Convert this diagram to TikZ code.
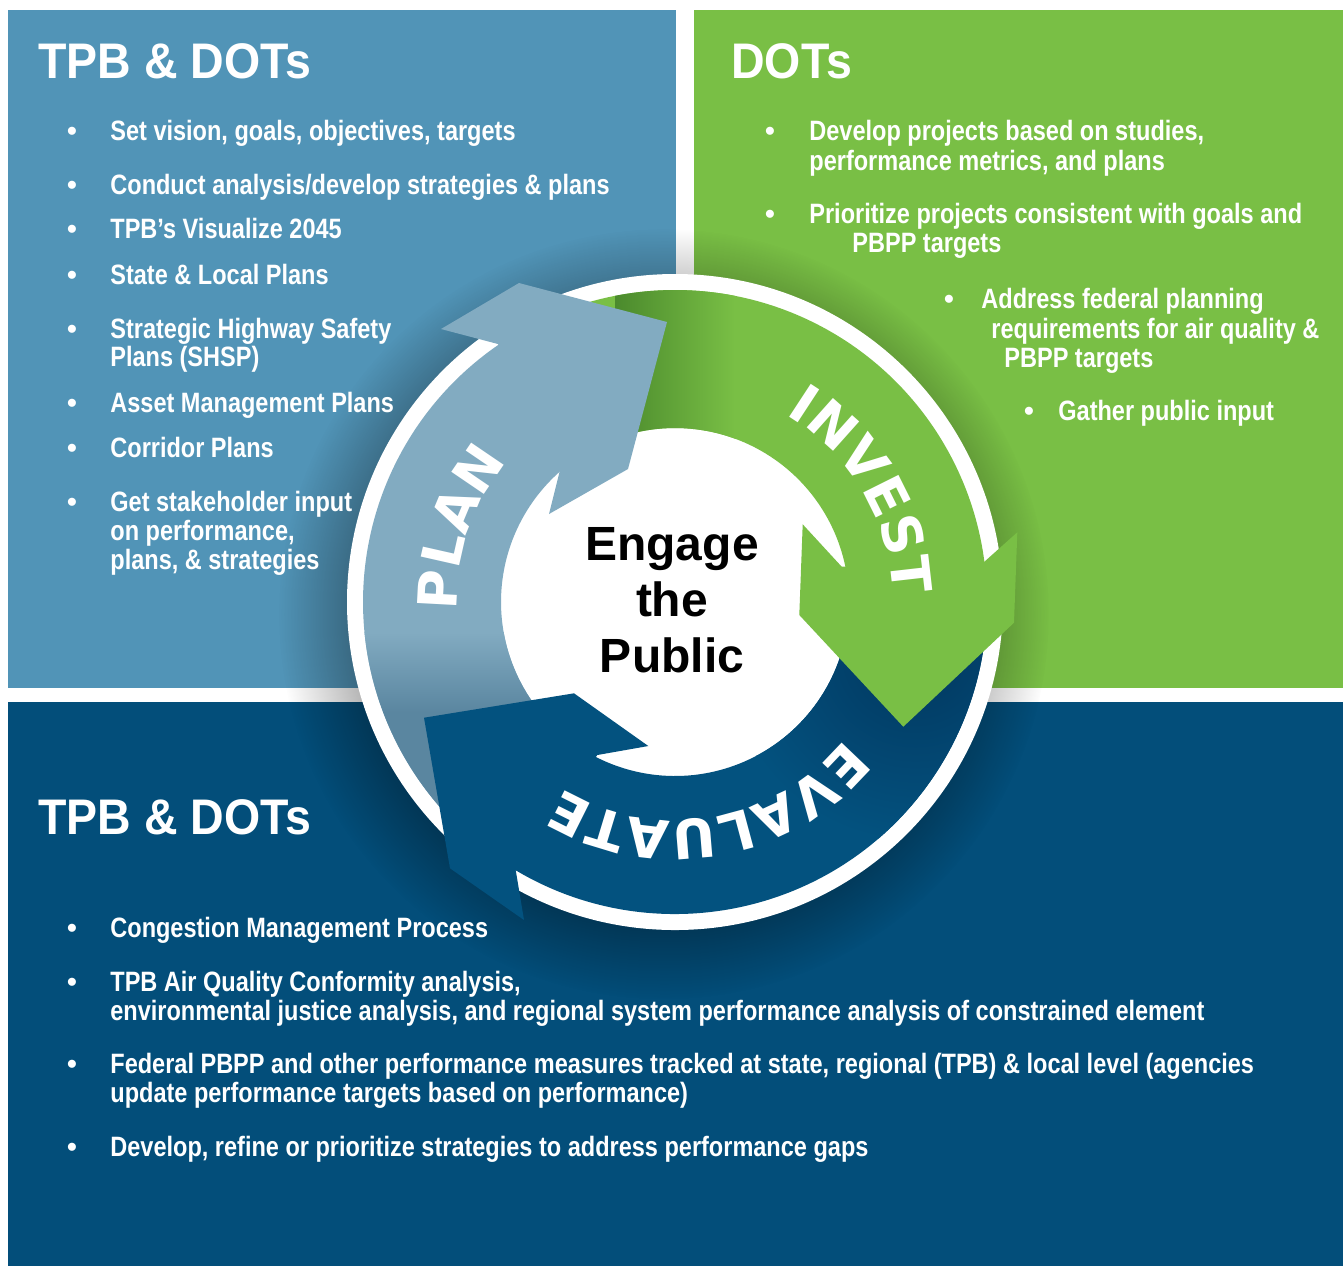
\documentclass[tikz,border=0pt]{standalone}
\usepackage{fontspec}
\setmainfont{Liberation Sans}
\newfontfamily\itemfont{Liberation Sans}[FakeStretch=0.84]
\newfontfamily\headfont{Liberation Sans}[FakeStretch=0.93]
\newfontfamily\ringfont{DejaVu Sans}
\usetikzlibrary{decorations.text,fadings}

\definecolor{planpanel}{HTML}{5194B7}
\definecolor{planarrow}{HTML}{82ABC1}
\definecolor{planshade}{HTML}{5A86A0}
\definecolor{investgreen}{HTML}{79BF45}
\definecolor{investshade}{HTML}{4B8A2D}
\definecolor{evalpanel}{HTML}{034E7A}
\definecolor{evalarrow}{HTML}{03527F}
\definecolor{evalshade}{HTML}{02375F}

% arrow bands, relative to the wheel centre (they run a little under their heads)
\newcommand\planband{(-121.4:312) arc[start angle=-121.4, end angle=-225, radius=312]
  -- (-225:174) arc[start angle=-225, end angle=-128.1, radius=174] -- cycle}
\newcommand\investband{(-3.9:312) arc[start angle=-3.9, end angle=-115, radius=312]
  -- (-115:174) arc[start angle=-115, end angle=-9, radius=174] -- cycle}
\newcommand\evalband{(124.2:312) arc[start angle=124.2, end angle=5, radius=312]
  -- (5:174) arc[start angle=5, end angle=119.9, radius=174] -- cycle}

\tikzset{
  heading/.style={anchor=base west, inner sep=0, text=white,
    font=\headfont\bfseries\fontsize{25}{25}\selectfont},
  item/.style={anchor=base west, inner sep=0, text=white,
    font=\itemfont\bfseries\fontsize{14}{14}\selectfont},
  dot/.style={anchor=base, inner sep=0, text=white,
    font=\bfseries\fontsize{14}{14}\selectfont},
  ringtext/.style={decorate, decoration={text along path, text align=center,
    text color=white, text={|\ringfont\bfseries\fontsize{27}{27}\selectfont|#1}}},
}

\begin{document}
\begin{tikzpicture}[x=0.5pt, y=-0.5pt]
\useasboundingbox (0,0) rectangle (1343,1266);

% panels
\fill[planpanel] (8,10) rectangle (676,688);
\fill[investgreen] (694,10) rectangle (1343,688);
\fill[evalpanel] (8,702) rectangle (1343,1266);

% wheel
\fill[black, opacity=.3, path fading=circle with fuzzy edge 20 percent] (664,614) circle (385);
\coordinate (C) at (675,602);
\fill[white] (C) circle (328);

\begin{scope}[shift={(C)}]
  \fill[planarrow] \planband;
  \fill[investgreen] \investband;
  \fill[evalarrow] \evalband;

  % shadows thrown by the arrow heads
  \begin{scope}
    \clip \investband;
    \shade[left color=investshade, right color=investgreen] (-60,-330) rectangle (60,-120);
  \end{scope}
  \begin{scope}
    \clip \planband;
    \shade[top color=planarrow, bottom color=planshade] (-340,30) rectangle (-90,110);
    \fill[planshade] (-340,110) rectangle (-90,240);
  \end{scope}
  \begin{scope}
    \clip \evalband;
    \shade[inner color=evalshade, outer color=evalarrow] (240,50) circle (190);
  \end{scope}

  % heads
  \fill[planarrow] (-177,-258) -- (-234,-273) -- (-156,-319) -- (-8,-280)
    -- (-47,-133) -- (-126,-88) -- (-115,-132) -- cycle;
  \fill[investgreen] (305.7,-37) -- (342.3,-69.7) -- (339,20.7) -- (228.3,124.7)
    -- (124.3,13) -- (127.7,-77.7) -- (166.7,-35.3) -- cycle;
  \fill[evalarrow] (-160,264) -- (-151,318) -- (-225,266.3) -- (-251,115.7)
    -- (-101,91.3) -- (-26.7,144) -- (-77.7,153) -- cycle;

  \path[ringtext=PLAN] (-221:218) arc[start angle=-221, end angle=-101, radius=218];
  \path[ringtext=INVEST] (-90.6:218) arc[start angle=-90.6, end angle=29.4, radius=218];
  \path[ringtext=EVALUATE] (20.1:218) arc[start angle=20.1, end angle=140.1, radius=218];
\end{scope}

\node[font=\bfseries\fontsize{24}{28}\selectfont, align=center] (hub) at (672,600) {Engage\\the\\Public};

\node[heading] (planhead) at (38,78) {TPB \& DOTs};
\node[heading] (investhead) at (731,78) {DOTs};
\node[heading] (evalhead) at (38,834) {TPB \& DOTs};

\foreach \x/\y [count=\i] in {72/140, 72/194, 72/238, 72/284, 72/338, 72/412, 72/457, 72/511,
    770/140, 770/223, 949/308, 1029/420,
    72/937, 72/991, 72/1073, 72/1156}
  \node[dot] (dot\i) at (\x,\y) {•};

\foreach \x/\y/\txt [count=\i] in {
    110/140/{Set vision, goals, objectives, targets},
    110/194/{Conduct analysis/develop strategies \& plans},
    110/238/{TPB’s Visualize 2045},
    110/284/{State \& Local Plans},
    110/338/{Strategic Highway Safety},
    110/366/{Plans (SHSP)},
    110/412/{Asset Management Plans},
    110/457/{Corridor Plans},
    110/511/{Get stakeholder input},
    110/540/{on performance,},
    110/569/{plans, \& strategies},
    809/140/{Develop projects based on studies,},
    809/170/{performance metrics, and plans},
    809/223/{Prioritize projects consistent with goals and},
    852/252/{PBPP targets},
    981/308/{Address federal planning},
    991/338/{requirements for air quality \&},
    1004/367/{PBPP targets},
    1058/420/{Gather public input},
    110/937/{Congestion Management Process},
    110/991/{TPB Air Quality Conformity analysis,},
    110/1020/{environmental justice analysis, and regional system performance analysis of constrained element},
    110/1073/{Federal PBPP and other performance measures tracked at state, regional (TPB) \& local level (agencies},
    110/1102/{update performance targets based on performance)},
    110/1156/{Develop, refine or prioritize strategies to address performance gaps}}
  \node[item] (line\i) at (\x,\y) {\txt};
\end{tikzpicture}
\end{document}
